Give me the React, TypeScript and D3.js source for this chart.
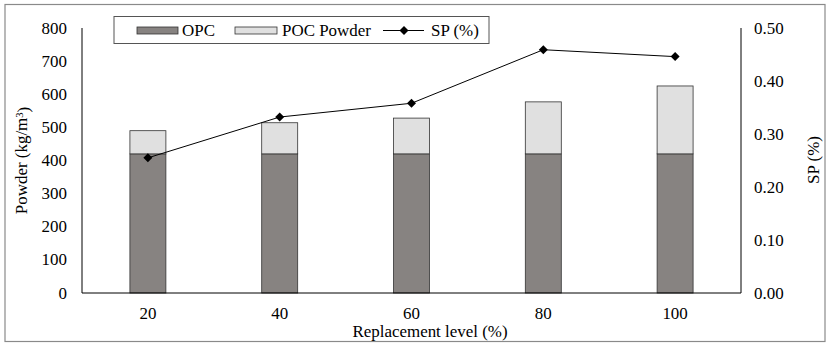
import React from "react";
import * as d3 from "d3";

const categories = ["20", "40", "60", "80", "100"];
const opc = [420, 420, 420, 420, 420];
const pocPowder = [70, 94, 108, 157, 205];
const sp = [0.255, 0.332, 0.358, 0.459, 0.446];
const leftTicks = [0, 100, 200, 300, 400, 500, 600, 700, 800];
const rightTicks = [0, 0.1, 0.2, 0.3, 0.4, 0.5];

const W = 829, H = 345;
const m = { left: 82, right: 741, top: 28, bottom: 293 };
const font = "Liberation Serif, DejaVu Serif, serif";

export default function App() {
  const x = d3.scaleBand().domain(categories).range([m.left, m.right]).paddingInner(0.727).paddingOuter(0.3635);
  const y = d3.scaleLinear().domain([0, 800]).range([m.bottom, m.top]);
  const y2 = d3.scaleLinear().domain([0, 0.5]).range([m.bottom, m.top]);
  const cx = (c: string) => (x(c) as number) + x.bandwidth() / 2;
  const line = d3.line<number>().x((_, i) => cx(categories[i])).y((d) => y2(d));
  const diamond = (px: number, py: number, r = 4.5) =>
    `M${px},${py - r}L${px + r},${py}L${px},${py + r}L${px - r},${py}Z`;
  const fs = 16;
  const sx = 1.06;
  const T = (props: { x: number; y: number; anchor?: string; children: React.ReactNode; rot?: boolean }) => (
    <text
      transform={`translate(${props.x},${props.y})${props.rot ? " rotate(-90)" : ""} scale(${sx},1)`}
      textAnchor={props.anchor || "start"}
      dy="0.35em"
      fontSize={fs}
    >
      {props.children}
    </text>
  );
  return (
    <svg width={W} height={H} style={{ position: "absolute", left: 0, top: 0, background: "#fff", fontFamily: font }}>
      <rect x={5} y={4.5} width={820} height={337} fill="#fff" stroke="#8a8a8a" strokeWidth={1.2} />
      {categories.map((c, i) => (
        <g key={c}>
          <rect x={x(c)} y={y(opc[i])} width={x.bandwidth()} height={y(0) - y(opc[i])} fill="#878381" stroke="#333" strokeWidth={0.8} />
          <rect x={x(c)} y={y(opc[i] + pocPowder[i])} width={x.bandwidth()} height={y(opc[i]) - y(opc[i] + pocPowder[i])} fill="#e0e0e0" stroke="#333" strokeWidth={0.8} />
        </g>
      ))}
      <line x1={m.left} x2={m.left} y1={m.top} y2={m.bottom} stroke="#000" strokeWidth={1} />
      <line x1={m.right} x2={m.right} y1={m.top} y2={m.bottom} stroke="#000" strokeWidth={1} />
      <line x1={m.left} x2={m.right} y1={m.bottom} y2={m.bottom} stroke="#000" strokeWidth={1} />
      <path d={line(sp) || ""} fill="none" stroke="#000" strokeWidth={1} />
      {sp.map((v, i) => (
        <path key={i} d={diamond(cx(categories[i]), y2(v))} fill="#000" />
      ))}
      {leftTicks.map((t) => (
        <T key={t} x={67} y={y(t)} anchor="end">{t}</T>
      ))}
      {rightTicks.map((t) => (
        <T key={t} x={754} y={y2(t)}>{t.toFixed(2)}</T>
      ))}
      {categories.map((c) => (
        <T key={c} x={cx(c)} y={313} anchor="middle">{c}</T>
      ))}
      <T x={430} y={331} anchor="middle">Replacement level (%)</T>
      <T x={21} y={(m.top + m.bottom) / 2} anchor="middle" rot>
        Powder (kg/m<tspan dy="-0.4em" fontSize={10}>3</tspan><tspan dy="0.4em">)</tspan>
      </T>
      <T x={813} y={160} anchor="middle" rot>SP (%)</T>
      <g>
        <rect x={114} y={16.5} width={375} height={27} fill="#fff" stroke="#555" strokeWidth={1} />
        <rect x={137} y={27} width={41} height={7} fill="#878381" stroke="#333" strokeWidth={0.8} />
        <T x={182} y={30.5}>OPC</T>
        <rect x={235} y={27} width={42} height={7} fill="#e0e0e0" stroke="#333" strokeWidth={0.8} />
        <T x={282} y={30.5}>POC Powder</T>
        <line x1={383} x2={424} y1={30.5} y2={30.5} stroke="#000" strokeWidth={1} />
        <path d={diamond(404, 30.5)} fill="#000" />
        <T x={431} y={30.5}>SP (%)</T>
      </g>
    </svg>
  );
}
